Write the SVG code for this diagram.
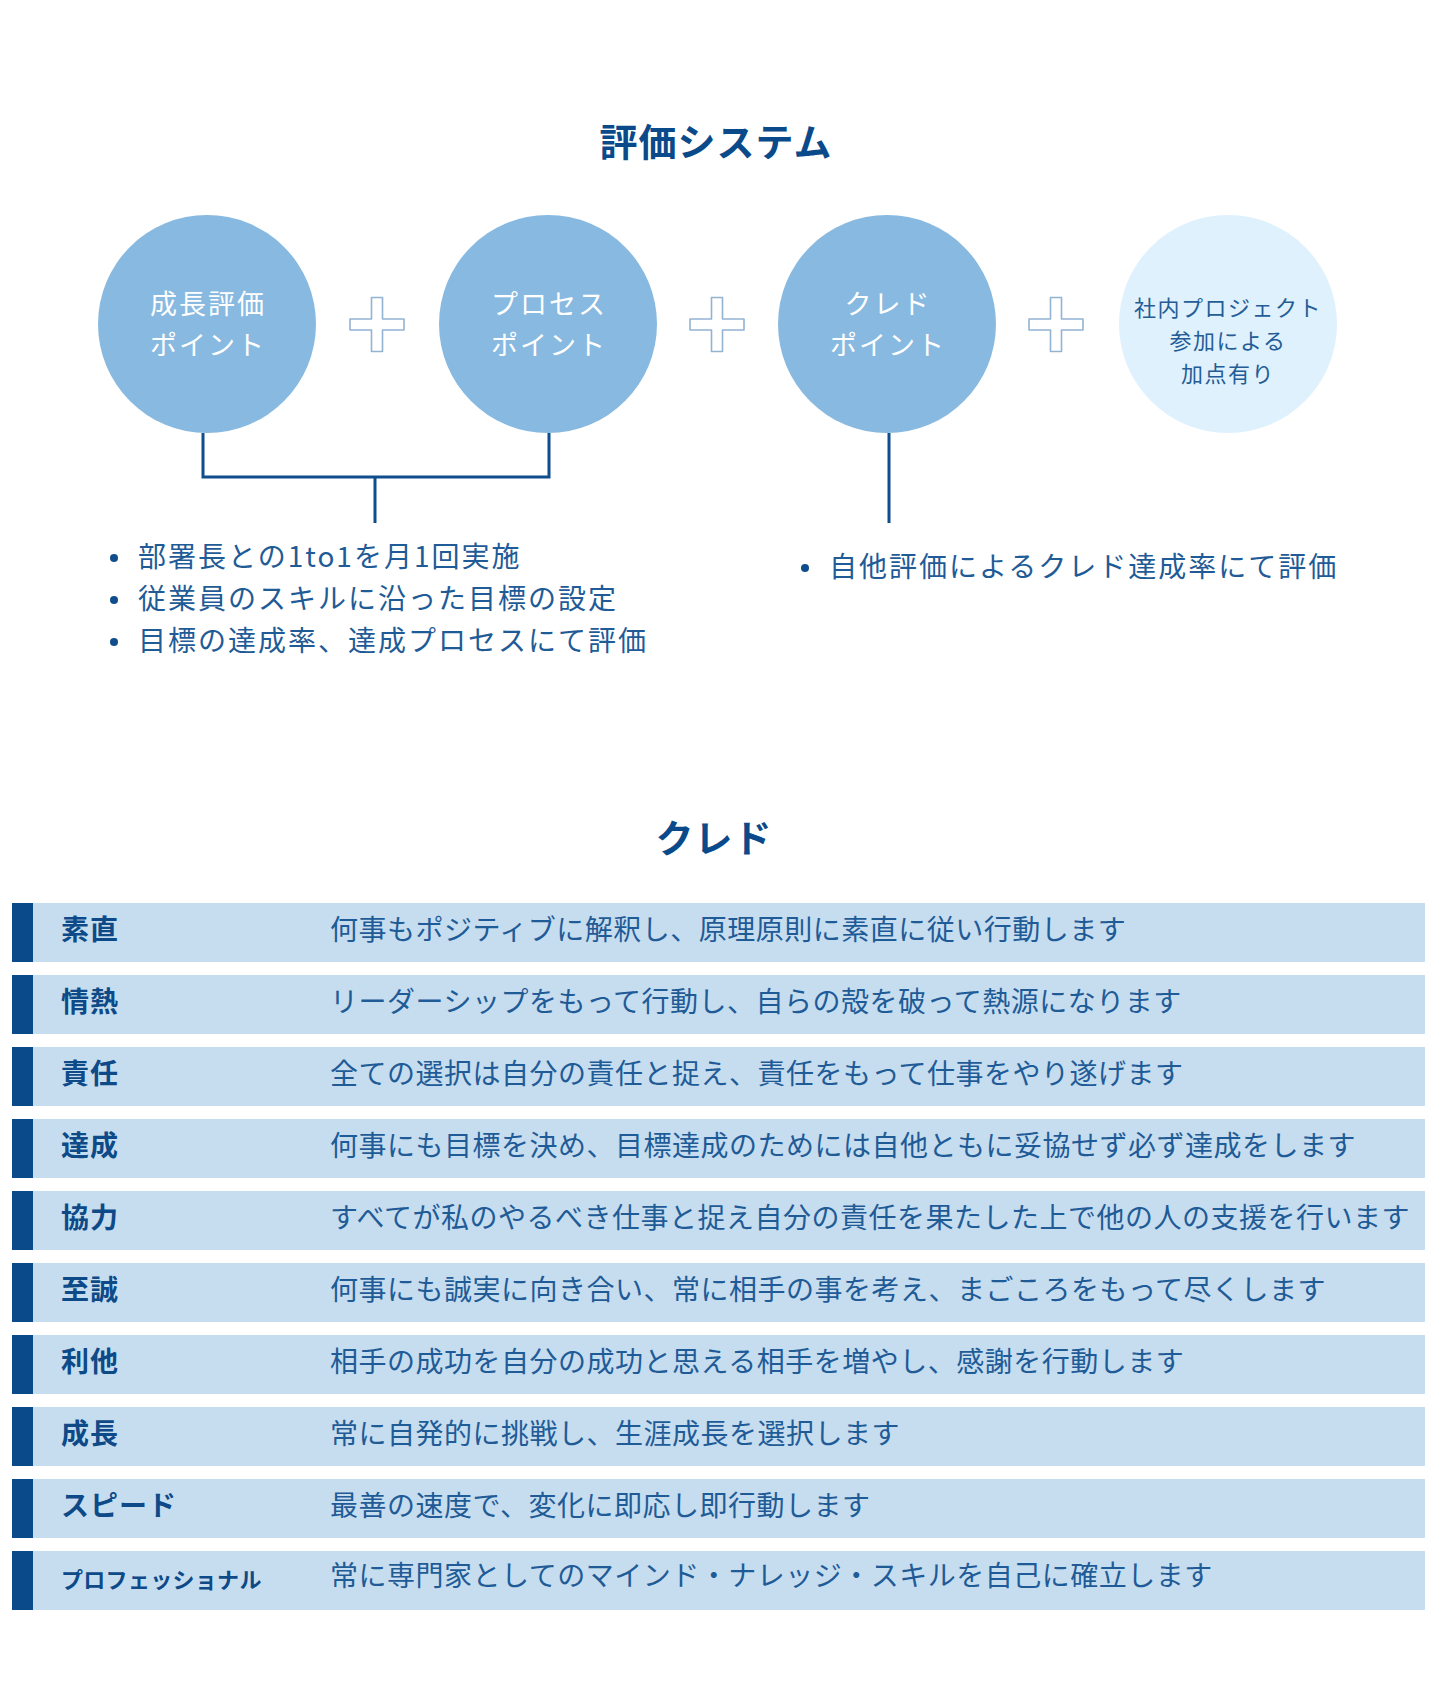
<svg xmlns="http://www.w3.org/2000/svg" width="1440" height="1688" viewBox="0 0 1440 1688">
<style>
text{font-family:"Noto Sans CJK JP","Noto Sans",sans-serif}
.title{font-size:38px;font-weight:bold;fill:#0b4a8a;letter-spacing:1px}
.ctext{font-size:27px;fill:#ffffff;letter-spacing:2px}
.ctext2{font-size:22px;fill:#245d96;letter-spacing:1.5px}
.c1{fill:#88b9e0}
.c2{fill:#dff1fd}
.plus{fill:#ffffff;stroke:#93b3d3;stroke-width:1.6}
.conn{fill:none;stroke:#0f4d8c;stroke-width:3}
.bul{font-size:28px;fill:#1f5b96;letter-spacing:2px}
.dot{fill:#0f4d8c}
.row{fill:#c6ddf0}
.bar{fill:#0b4a8a}
.lab{font-size:28px;font-weight:bold;fill:#0d4a87;letter-spacing:1px}
.lab2{font-size:22px;font-weight:bold;fill:#0d4a87;letter-spacing:0.3px}
.desc{font-size:28px;fill:#1f5b96;letter-spacing:0.5px}
</style>
<defs>
<path id="plus" d="M-5.5,-27 h11 v21.5 h21.5 v11 h-21.5 v21.5 h-11 v-21.5 h-21.5 v-11 h21.5 z" stroke-linejoin="round"/>
</defs>
<rect width="1440" height="1688" fill="#ffffff"/>
<text class="title" x="716" y="156" text-anchor="middle">評価システム</text>

<g id="node-growth">
<circle class="c1" cx="207" cy="324" r="109"/>
<text class="ctext" x="208" y="314" text-anchor="middle">成長評価</text>
<text class="ctext" x="208" y="355" text-anchor="middle">ポイント</text>
</g>
<g id="plus-1"><use href="#plus" class="plus" x="377" y="324.5"/></g>
<g id="node-process">
<circle class="c1" cx="548" cy="324" r="109"/>
<text class="ctext" x="549" y="314" text-anchor="middle">プロセス</text>
<text class="ctext" x="549" y="355" text-anchor="middle">ポイント</text>
</g>
<g id="plus-2"><use href="#plus" class="plus" x="717" y="324.5"/></g>
<g id="node-cred">
<circle class="c1" cx="887" cy="324" r="109"/>
<text class="ctext" x="888" y="314" text-anchor="middle">クレド</text>
<text class="ctext" x="888" y="355" text-anchor="middle">ポイント</text>
</g>
<g id="plus-3"><use href="#plus" class="plus" x="1056" y="324.5"/></g>
<g id="node-project">
<circle class="c2" cx="1228" cy="324" r="109"/>
<text class="ctext2" x="1228" y="315.5" text-anchor="middle">社内プロジェクト</text>
<text class="ctext2" x="1228" y="348.5" text-anchor="middle">参加による</text>
<text class="ctext2" x="1228" y="381.5" text-anchor="middle">加点有り</text>
</g>

<g id="connectors">
<path class="conn" d="M203,433 V477 H549 V433"/>
<path class="conn" d="M375,477 V523"/>
<path class="conn" d="M889,433 V523"/>
</g>

<g id="notes-left">
<circle class="dot" cx="114" cy="558" r="4"/>
<text class="bul" x="138" y="567">部署長との1to1を月1回実施</text>
<circle class="dot" cx="114" cy="600" r="4"/>
<text class="bul" x="138" y="609">従業員のスキルに沿った目標の設定</text>
<circle class="dot" cx="114" cy="642" r="4"/>
<text class="bul" x="138" y="651">目標の達成率、達成プロセスにて評価</text>
</g>
<g id="notes-right">
<circle class="dot" cx="805" cy="568" r="4"/>
<text class="bul" x="829" y="577">自他評価によるクレド達成率にて評価</text>
</g>

<text class="title" x="714" y="852" text-anchor="middle">クレド</text>

<g id="cred-table">
<g id="row-1"><rect class="row" x="12" y="903" width="1413" height="59"/><rect class="bar" x="12" y="903" width="21" height="59"/>
<text class="lab" x="61" y="940">素直</text><text class="desc" x="330" y="940">何事もポジティブに解釈し、原理原則に素直に従い行動します</text></g>
<g id="row-2"><rect class="row" x="12" y="975" width="1413" height="59"/><rect class="bar" x="12" y="975" width="21" height="59"/>
<text class="lab" x="61" y="1012">情熱</text><text class="desc" x="330" y="1012">リーダーシップをもって行動し、自らの殻を破って熱源になります</text></g>
<g id="row-3"><rect class="row" x="12" y="1047" width="1413" height="59"/><rect class="bar" x="12" y="1047" width="21" height="59"/>
<text class="lab" x="61" y="1084">責任</text><text class="desc" x="330" y="1084">全ての選択は自分の責任と捉え、責任をもって仕事をやり遂げます</text></g>
<g id="row-4"><rect class="row" x="12" y="1119" width="1413" height="59"/><rect class="bar" x="12" y="1119" width="21" height="59"/>
<text class="lab" x="61" y="1156">達成</text><text class="desc" x="330" y="1156">何事にも目標を決め、目標達成のためには自他ともに妥協せず必ず達成をします</text></g>
<g id="row-5"><rect class="row" x="12" y="1191" width="1413" height="59"/><rect class="bar" x="12" y="1191" width="21" height="59"/>
<text class="lab" x="61" y="1228">協力</text><text class="desc" x="330" y="1228">すべてが私のやるべき仕事と捉え自分の責任を果たした上で他の人の支援を行います</text></g>
<g id="row-6"><rect class="row" x="12" y="1263" width="1413" height="59"/><rect class="bar" x="12" y="1263" width="21" height="59"/>
<text class="lab" x="61" y="1300">至誠</text><text class="desc" x="330" y="1300">何事にも誠実に向き合い、常に相手の事を考え、まごころをもって尽くします</text></g>
<g id="row-7"><rect class="row" x="12" y="1335" width="1413" height="59"/><rect class="bar" x="12" y="1335" width="21" height="59"/>
<text class="lab" x="61" y="1372">利他</text><text class="desc" x="330" y="1372">相手の成功を自分の成功と思える相手を増やし、感謝を行動します</text></g>
<g id="row-8"><rect class="row" x="12" y="1407" width="1413" height="59"/><rect class="bar" x="12" y="1407" width="21" height="59"/>
<text class="lab" x="61" y="1444">成長</text><text class="desc" x="330" y="1444">常に自発的に挑戦し、生涯成長を選択します</text></g>
<g id="row-9"><rect class="row" x="12" y="1479" width="1413" height="59"/><rect class="bar" x="12" y="1479" width="21" height="59"/>
<text class="lab" x="61" y="1516">スピード</text><text class="desc" x="330" y="1516">最善の速度で、変化に即応し即行動します</text></g>
<g id="row-10"><rect class="row" x="12" y="1551" width="1413" height="59"/><rect class="bar" x="12" y="1551" width="21" height="59"/>
<text class="lab2" x="61" y="1588">プロフェッショナル</text><text class="desc" x="330" y="1586">常に専門家としてのマインド・ナレッジ・スキルを自己に確立します</text></g>
</g>
</svg>
